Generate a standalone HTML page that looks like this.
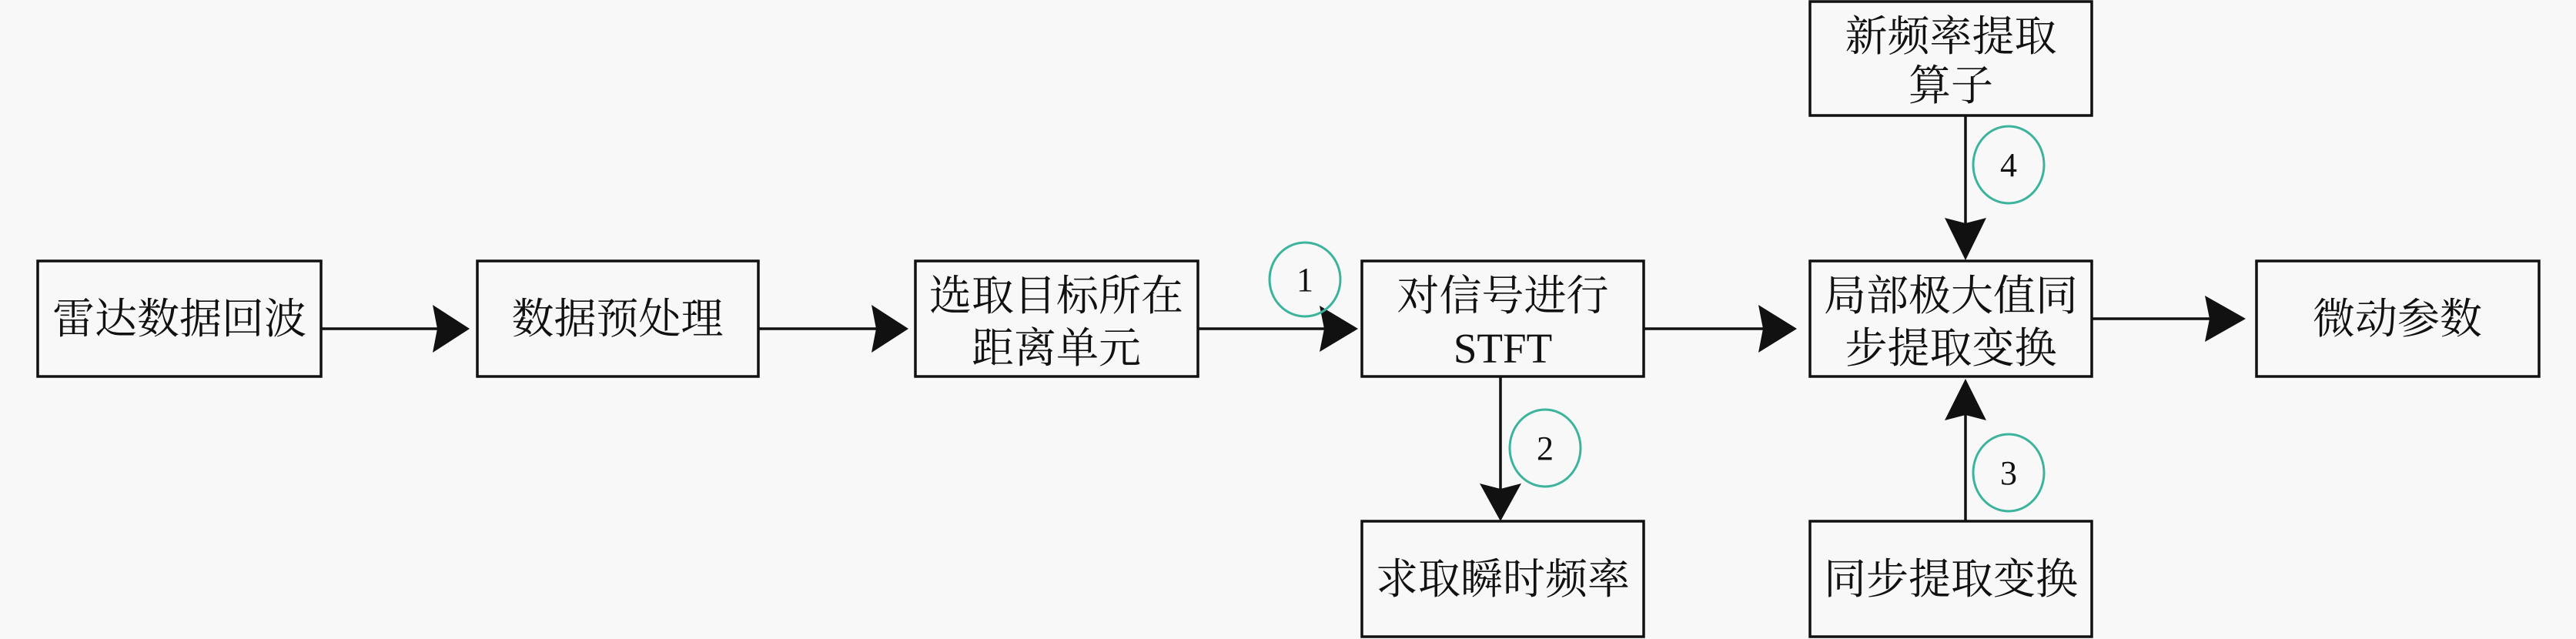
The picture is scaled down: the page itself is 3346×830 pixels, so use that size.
<!DOCTYPE html>
<html><head><meta charset="utf-8"><style>
html,body{margin:0;padding:0;background:#f8f8f8;}
svg{display:block;}
text{font-family:"Liberation Serif","Noto Serif CJK SC","Noto Sans CJK SC",serif;fill:#111;}
.cj{font-size:55px;}
.n{font-size:44px;}
</style></head><body>
<svg width="3346" height="830" viewBox="0 0 3346 830" xmlns="http://www.w3.org/2000/svg">
<rect width="3346" height="830" fill="#f8f8f8"/>
<g fill="none" stroke="#111" stroke-width="3.5">
<rect x="49" y="339" width="368" height="150"/>
<rect x="620" y="339" width="365" height="150"/>
<rect x="1189" y="339" width="367" height="150"/>
<rect x="1769" y="339" width="366" height="150"/>
<rect x="2351" y="339" width="366" height="150"/>
<rect x="2931" y="339" width="367" height="150"/>
<rect x="2351" y="2" width="366" height="148"/>
<rect x="1769" y="677" width="366" height="150"/>
<rect x="2351" y="677" width="366" height="150"/>
<line x1="417" y1="427" x2="580" y2="427"/>
<line x1="985" y1="427" x2="1150" y2="427"/>
<line x1="1556" y1="427" x2="1735" y2="427"/>
<line x1="2135" y1="427" x2="2300" y2="427"/>
<line x1="2717" y1="414" x2="2885" y2="414"/>
<line x1="2553" y1="150" x2="2553" y2="310"/>
<line x1="1949" y1="489" x2="1949" y2="650"/>
<line x1="2553" y1="677" x2="2553" y2="520"/>
</g>
<g fill="#111">
<path d="M610,427 L562,396 L568,427 L562,458 Z"/>
<path d="M1180,427 L1132,396 L1138,427 L1132,458 Z"/>
<path d="M1764,427 L1714,397 L1720,427 L1714,457 Z"/>
<path d="M2334,427 L2284,396 L2290,427 L2284,458 Z"/>
<path d="M2917,414 L2864,384 L2870,414 L2864,444 Z"/>
<path d="M2553,338 L2526,283 L2553,290 L2580,283 Z"/>
<path d="M1949,677 L1922,628 L1949,635 L1976,628 Z"/>
<path d="M2553,492 L2526,546 L2553,539 L2580,546 Z"/>
</g>
<g fill="none" stroke="#3cb39c" stroke-width="3">
<ellipse cx="1695" cy="363" rx="46" ry="48"/>
<ellipse cx="2007" cy="582" rx="46" ry="50"/>
<ellipse cx="2609" cy="614" rx="46" ry="50"/>
<ellipse cx="2609" cy="214" rx="46" ry="50"/>
</g>
<g class="n" text-anchor="middle">
<text x="1695" y="378">1</text>
<text x="2007" y="597">2</text>
<text x="2609" y="629">3</text>
<text x="2609" y="229">4</text>
</g>
<g class="cj" text-anchor="middle">
<text x="233" y="433">雷达数据回波</text>
<text x="802" y="433">数据预处理</text>
<text x="1372" y="403">选取目标所在</text>
<text x="1372" y="471">距离单元</text>
<text x="1952" y="403">对信号进行</text>
<text x="1952" y="471">STFT</text>
<text x="2534" y="403">局部极大值同</text>
<text x="2534" y="471">步提取变换</text>
<text x="3114" y="433">微动参数</text>
<text x="2534" y="66">新频率提取</text>
<text x="2534" y="130">算子</text>
<text x="1952" y="771">求取瞬时频率</text>
<text x="2534" y="771">同步提取变换</text>
</g>
</svg>
</body></html>
